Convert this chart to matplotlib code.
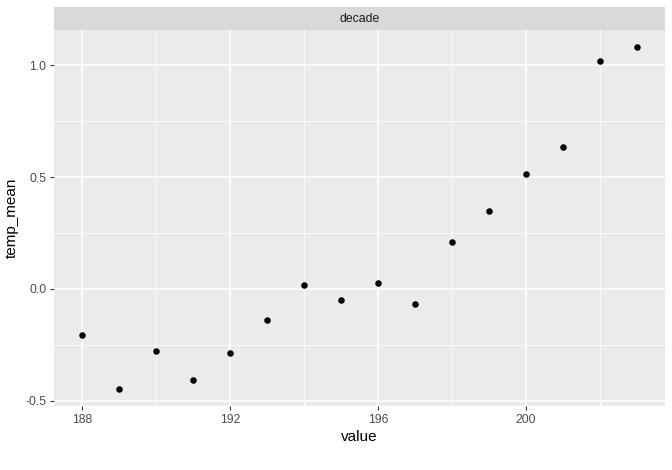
import matplotlib
matplotlib.use("Agg")
import matplotlib.pyplot as plt

plt.rcParams["font.family"] = ["Liberation Sans", "DejaVu Sans"]

value = [188, 189, 190, 191, 192, 193, 194, 195, 196, 197, 198, 199, 200, 201, 202, 203]
temp_mean = [-0.208, -0.448, -0.278, -0.407, -0.288, -0.140, 0.019, -0.052, 0.025, -0.069,
             0.209, 0.350, 0.514, 0.635, 1.019, 1.082]
x_ticks = [188, 192, 196, 200]
x_minor = [190, 194, 198, 202]
y_ticks = [-0.5, 0.0, 0.5, 1.0]
y_tick_labels = ["-0.5", "0.0", "0.5", "1.0"]
y_minor = [-0.25, 0.25, 0.75]
strip_label = "decade"

W, H = 672, 470
fig = plt.figure(figsize=(W / 100, H / 100), dpi=100)
left, right, top, bottom = 54, 665, 30, 406
ax = fig.add_axes([left / W, 1 - bottom / H, (right - left) / W, (bottom - top) / H])
ax.set_facecolor("#EBEBEB")
for s in ax.spines.values():
    s.set_visible(False)

xmin, xmax = min(value), max(value)
ex = (xmax - xmin) * 0.05
ax.set_xlim(xmin - ex, xmax + ex)
ymin, ymax = min(temp_mean), max(temp_mean)
ey = (ymax - ymin) * 0.05
ax.set_ylim(ymin - ey, ymax + ey)

for v in x_minor:
    ax.axvline(v, color="white", lw=0.55, zorder=0)
for v in y_minor:
    ax.axhline(v, color="white", lw=0.55, zorder=0)
for v in x_ticks:
    ax.axvline(v, color="white", lw=1.1, zorder=0)
for v in y_ticks:
    ax.axhline(v, color="white", lw=1.1, zorder=0)

ax.scatter(value, temp_mean, s=22, color="black", zorder=3, linewidths=0)

ax.set_xticks(x_ticks)
ax.set_xticklabels([str(t) for t in x_ticks])
ax.set_yticks(y_ticks)
ax.set_yticklabels(y_tick_labels)
ax.tick_params(axis="both", colors="#333333", labelcolor="#4D4D4D", labelsize=8.8,
               length=3, width=0.8, pad=2.5)
ax.set_xlabel("value", fontsize=11, color="black", labelpad=3)
ax.set_ylabel("temp_mean", fontsize=11, color="black", labelpad=5)

# facet strip
strip_top = 7
sax = fig.add_axes([left / W, 1 - top / H, (right - left) / W, (top - strip_top) / H])
sax.set_facecolor("#D9D9D9")
sax.set_xticks([])
sax.set_yticks([])
for s in sax.spines.values():
    s.set_visible(False)
sax.text(0.5, 0.5, strip_label, ha="center", va="center", fontsize=8.8, color="#1A1A1A",
         transform=sax.transAxes)

fig.savefig("out.png", dpi=100)
